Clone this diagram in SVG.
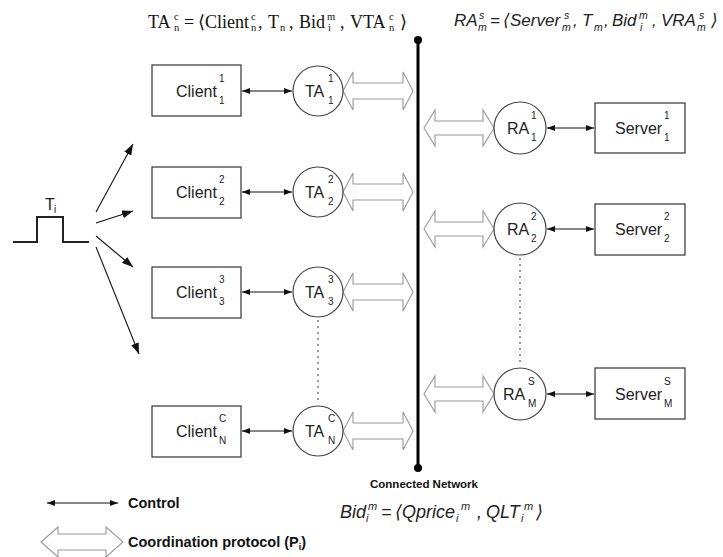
<svg xmlns="http://www.w3.org/2000/svg" width="723" height="557" viewBox="0 0 723 557">
<defs>
<style>
.box{fill:#fff;stroke:#333;stroke-width:1.2}
.circ{fill:#fff;stroke:#444;stroke-width:1.2}
.lbl{font-family:"Liberation Sans",Arial,sans-serif;font-size:16px;fill:#222}
.ss{font-family:"Liberation Sans",Arial,sans-serif;font-size:10px;fill:#222}
.ctl{stroke:#111;stroke-width:1.1;fill:none;marker-start:url(#ah);marker-end:url(#ah)}
.fan{stroke:#111;stroke-width:1.1;fill:none;marker-end:url(#fh)}
.hol{fill:#fff;stroke:#999;stroke-width:1.1}
.dot{stroke:#555;stroke-width:1.2;stroke-dasharray:2 4;fill:none}
.ser{font-family:"Liberation Serif","DejaVu Serif",serif;font-size:18px;fill:#111}
.sers{font-family:"Liberation Serif","DejaVu Serif",serif;font-size:10.5px;fill:#111}
.it{font-family:"Liberation Sans","DejaVu Sans",sans-serif;font-style:italic;font-size:17px;fill:#222}
.its{font-family:"Liberation Sans","DejaVu Sans",sans-serif;font-style:italic;font-size:10.5px;fill:#222}
.itb{font-family:"Liberation Sans","DejaVu Sans",sans-serif;font-style:italic;font-size:18px;fill:#222}
.itbs{font-family:"Liberation Sans","DejaVu Sans",sans-serif;font-style:italic;font-size:11px;fill:#222}
.bold{font-family:"Liberation Sans",Arial,sans-serif;font-weight:bold;fill:#111}
</style>
<marker id="ah" viewBox="0 0 8 6" refX="8" refY="3" markerWidth="8" markerHeight="6" markerUnits="userSpaceOnUse" orient="auto-start-reverse"><path d="M0,0 L8,3 L0,6 z" fill="#111"/></marker>
<marker id="fh" viewBox="0 0 11 8" refX="11" refY="4" markerWidth="11" markerHeight="8" markerUnits="userSpaceOnUse" orient="auto"><path d="M0,0 L11,4 L0,8 z" fill="#111"/></marker>
</defs>
<rect width="723" height="557" fill="#fff"/>

<!-- Top formula TA -->
<g id="formula-ta">
<text class="ser" x="148" y="28">TA</text>
<text class="sers" x="174" y="20">c</text><text class="sers" x="174" y="31">n</text>
<text class="ser" x="184" y="28">=</text>
<text class="ser" x="198" y="28">⟨</text>
<text class="ser" x="205" y="28">Client</text>
<text class="sers" x="251" y="20">c</text><text class="sers" x="251" y="31">n</text>
<text class="ser" x="258" y="28">,</text>
<text class="ser" x="268" y="28">T</text>
<text class="sers" x="280" y="31">n</text>
<text class="ser" x="289" y="28">,</text>
<text class="ser" x="299" y="28">Bid</text>
<text class="sers" x="327" y="20">m</text><text class="sers" x="328" y="31">i</text>
<text class="ser" x="340" y="28">,</text>
<text class="ser" x="350" y="28">VTA</text>
<text class="sers" x="389" y="20">c</text><text class="sers" x="389" y="31">n</text>
<text class="ser" x="400" y="28">⟩</text>
</g>

<!-- Top formula RA -->
<g id="formula-ra">
<text class="it" x="454" y="26">RA</text>
<text class="its" x="479" y="19">s</text><text class="its" x="478" y="31">m</text>
<text class="it" x="490" y="26">=</text>
<text class="it" x="503" y="26">⟨</text>
<text class="it" x="510" y="26">Server</text>
<text class="its" x="564" y="19">s</text><text class="its" x="562" y="31">m</text>
<text class="it" x="573" y="26">,</text>
<text class="it" x="582" y="26">T</text>
<text class="its" x="594" y="31">m</text>
<text class="it" x="604" y="26">,</text>
<text class="it" x="612" y="26">Bid</text>
<text class="its" x="639" y="19">m</text><text class="its" x="640" y="31">i</text>
<text class="it" x="652" y="26">,</text>
<text class="it" x="661" y="26">VRA</text>
<text class="its" x="699" y="19">s</text><text class="its" x="697" y="31">m</text>
<text class="it" x="711" y="26">⟩</text>
</g>

<!-- Network -->
<g id="network">
<line x1="418" y1="40" x2="418" y2="468" stroke="#000" stroke-width="3"/>
<circle cx="418" cy="40" r="4" fill="#000"/>
<circle cx="418" cy="468" r="4" fill="#000"/>
<text class="bold" x="424" y="488" font-size="11.5" text-anchor="middle">Connected Network</text>
</g>

<!-- Trigger pulse -->
<g id="pulse">
<polyline points="13,242 37,242 37,217 63,217 63,242 89,242" fill="none" stroke="#222" stroke-width="2"/>
<text class="lbl" x="45" y="210" font-size="14">T</text>
<text class="ss" x="54" y="213" font-size="9">i</text>
</g>

<!-- Connectors -->
<g id="connectors">
<line class="fan" x1="96" y1="212" x2="133" y2="144"/>
<line class="fan" x1="96" y1="223" x2="133" y2="211"/>
<line class="fan" x1="96" y1="236" x2="133" y2="267"/>
<line class="fan" x1="96" y1="247" x2="139" y2="354"/>

<line class="ctl" x1="242" y1="91" x2="292" y2="91"/>
<line class="ctl" x1="242" y1="192" x2="292" y2="192"/>
<line class="ctl" x1="242" y1="292" x2="292" y2="292"/>
<line class="ctl" x1="242" y1="431" x2="292" y2="431"/>

<line class="ctl" x1="547" y1="128" x2="594" y2="128"/>
<line class="ctl" x1="547" y1="229" x2="594" y2="229"/>
<line class="ctl" x1="547" y1="394" x2="594" y2="394"/>

<polygon class="hol" points="343,91 353,72 353,83 403,83 403,72 413,91 403,110 403,99 353,99 353,110"/>
<polygon class="hol" points="343,192 353,173 353,184 403,184 403,173 413,192 403,211 403,200 353,200 353,211"/>
<polygon class="hol" points="343,292 353,273 353,284 403,284 403,273 413,292 403,311 403,300 353,300 353,311"/>
<polygon class="hol" points="343,431 353,412 353,423 403,423 403,412 413,431 403,450 403,439 353,439 353,450"/>

<polygon class="hol" points="424,128 435,110 435,121 483,121 483,110 494,128 483,146 483,135 435,135 435,146"/>
<polygon class="hol" points="424,229 435,211 435,222 483,222 483,211 494,229 483,247 483,236 435,236 435,247"/>
<polygon class="hol" points="424,394 435,376 435,387 483,387 483,376 494,394 483,412 483,401 435,401 435,412"/>

<line class="dot" x1="318" y1="320" x2="318" y2="404"/>
<line class="dot" x1="520" y1="258" x2="520" y2="366"/>
</g>

<!-- Clients -->
<g id="client1"><rect class="box" x="152" y="65" width="89" height="51"/><text class="lbl" x="176" y="97">Client</text><text class="ss" x="219" y="82">1</text><text class="ss" x="219" y="104">1</text></g>
<g id="client2"><rect class="box" x="152" y="167" width="89" height="51"/><text class="lbl" x="176" y="198">Client</text><text class="ss" x="219" y="183">2</text><text class="ss" x="219" y="205">2</text></g>
<g id="client3"><rect class="box" x="152" y="267" width="89" height="51"/><text class="lbl" x="176" y="298">Client</text><text class="ss" x="219" y="283">3</text><text class="ss" x="219" y="305">3</text></g>
<g id="clientN"><rect class="box" x="152" y="406" width="89" height="51"/><text class="lbl" x="176" y="437">Client</text><text class="ss" x="219" y="422">C</text><text class="ss" x="219" y="444">N</text></g>

<!-- TAs -->
<g id="ta1"><circle class="circ" cx="318" cy="91" r="25"/><text class="lbl" x="305" y="97">TA</text><text class="ss" x="328" y="82">1</text><text class="ss" x="328" y="104">1</text></g>
<g id="ta2"><circle class="circ" cx="318" cy="192" r="25"/><text class="lbl" x="305" y="198">TA</text><text class="ss" x="328" y="183">2</text><text class="ss" x="328" y="205">2</text></g>
<g id="ta3"><circle class="circ" cx="318" cy="292" r="25"/><text class="lbl" x="305" y="298">TA</text><text class="ss" x="328" y="283">3</text><text class="ss" x="328" y="305">3</text></g>
<g id="taN"><circle class="circ" cx="318" cy="431" r="25"/><text class="lbl" x="305" y="437">TA</text><text class="ss" x="328" y="422">C</text><text class="ss" x="328" y="444">N</text></g>

<!-- RAs -->
<g id="ra1"><circle class="circ" cx="520" cy="128" r="26"/><text class="lbl" x="507" y="134">RA</text><text class="ss" x="531" y="119">1</text><text class="ss" x="531" y="141">1</text></g>
<g id="ra2"><circle class="circ" cx="520" cy="229" r="26"/><text class="lbl" x="507" y="235">RA</text><text class="ss" x="531" y="220">2</text><text class="ss" x="531" y="242">2</text></g>
<g id="raM"><circle class="circ" cx="520" cy="394" r="26"/><text class="lbl" x="503" y="400" font-size="17">RA</text><text class="ss" x="528" y="385">S</text><text class="ss" x="528" y="407">M</text></g>

<!-- Servers -->
<g id="server1"><rect class="box" x="595" y="103" width="90" height="50"/><text class="lbl" x="615" y="134">Server</text><text class="ss" x="664" y="119">1</text><text class="ss" x="664" y="141">1</text></g>
<g id="server2"><rect class="box" x="595" y="204" width="90" height="51"/><text class="lbl" x="615" y="235">Server</text><text class="ss" x="664" y="220">2</text><text class="ss" x="664" y="242">2</text></g>
<g id="serverM"><rect class="box" x="595" y="368" width="90" height="51"/><text class="lbl" x="615" y="400">Server</text><text class="ss" x="664" y="385">S</text><text class="ss" x="664" y="407">M</text></g>

<!-- Bottom formula -->
<g id="formula-bid">
<text class="itb" x="340" y="518">Bid</text>
<text class="itbs" x="366" y="522">i</text><text class="itbs" x="368" y="510">m</text>
<text class="itb" x="381" y="518">=</text>
<text class="itb" x="395" y="518">⟨</text>
<text class="itb" x="402" y="518">Qprice</text>
<text class="itbs" x="456" y="522">i</text><text class="itbs" x="461" y="510">m</text>
<text class="itb" x="477" y="518">,</text>
<text class="itb" x="486" y="518">QLT</text>
<text class="itbs" x="521" y="522">i</text><text class="itbs" x="524" y="510">m</text>
<text class="itb" x="536" y="518">⟩</text>
</g>

<!-- Legend -->
<g id="legend">
<line class="ctl" x1="47" y1="503" x2="118" y2="503"/>
<text class="bold" x="128" y="508" font-size="14.5">Control</text>
<polygon class="hol" points="41,542 58,527 58,534 106,534 106,527 123,542 106,557 106,550 58,550 58,557"/>
<text class="bold" x="128" y="547" font-size="14.5">Coordination protocol (P<tspan font-size="9" dy="3">i</tspan><tspan dy="-3">)</tspan></text>
</g>
</svg>
